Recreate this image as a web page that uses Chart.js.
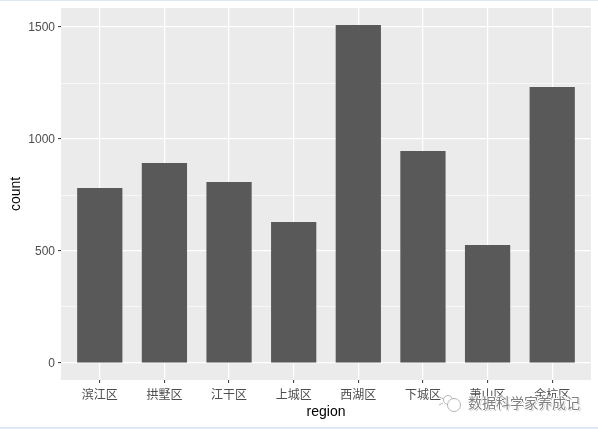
<!DOCTYPE html>
<html><head><meta charset="utf-8">
<script src="https://cdn.jsdelivr.net/npm/chart.js@4"></script>
<style>
html,body{margin:0;padding:0;background:#fff;overflow:hidden}
#wrap{position:relative;width:598px;height:429px}
#stripT,#stripB{position:absolute;left:0;width:598px;background:#dfe9f5}
#stripT{top:0;height:1px}
#stripB{top:427px;height:2px}
#wm{position:absolute;left:468px;top:392px;font:14px "Noto Sans CJK SC";line-height:20px;color:#808080;white-space:nowrap;
text-shadow:1px 0 0 #fff,-1px 0 0 #fff,0 1px 0 #fff,0 -1px 0 #fff,1px 1px 1px #999}
#ic{position:absolute;left:438px;top:393px}
</style></head><body>
<div id="wrap">
<canvas id="c" width="598" height="429" style="display:block"></canvas>
<div id="stripT"></div><div id="stripB"></div>
<svg id="ic" width="26" height="20" fill="none" stroke="#b5b5b5" stroke-width="1"><circle cx="10" cy="7" r="4.5" fill="#fff"/><circle cx="16" cy="12" r="6.5" fill="#fff"/><path d="M1 4l5 2M1 12l4-2"/></svg>
<div id="wm">数据科学家养成记</div>
</div>
<script>
const regions=["滨江区","拱墅区","江干区","上城区","西湖区","下城区","萧山区","余杭区"];
const counts=[781,893,808,629,1509,946,527,1232];
const positions=[1,2,3,4,5,6,7,8];
const yTicks=[0,250,500,750,1000,1250,1500];
const yLabelled=[0,500,1000,1500];
const panel={id:'panel',beforeDraw(ch){const a=ch.chartArea,g=ch.ctx;g.save();g.fillStyle='#ebebeb';g.fillRect(a.left,a.top,a.right-a.left,a.bottom-a.top);g.restore();}};
new Chart(document.getElementById('c'),{
 type:'bar',
 plugins:[panel],
 data:{datasets:[{data:positions.map((p,i)=>({x:p,y:counts[i]})),backgroundColor:'#595959',borderWidth:0,barPercentage:0.7,categoryPercentage:1}]},
 options:{
  responsive:false,animation:false,
  layout:{padding:{top:8,right:7,left:0,bottom:0}},
  plugins:{legend:{display:false},tooltip:{enabled:false}},
  scales:{
   x:{type:'linear',offset:false,min:0.4,max:8.6,
    afterBuildTicks(s){s.ticks=positions.map(v=>({value:v}));},
    afterFit(s){s.height=49;s.paddingLeft=0;s.paddingRight=0;},
    border:{display:false},
    grid:{offset:false,color:'#fff',lineWidth:1.2,tickColor:'#333',tickLength:3,tickWidth:1},
    ticks:{autoSkip:false,maxRotation:0,padding:4,color:'#4d4d4d',font:{family:'"Noto Sans CJK SC"',size:12},callback:v=>regions[v-1]},
    title:{display:true,text:'region',color:'#000',font:{family:'"Liberation Sans"',size:14},padding:{top:0,bottom:8}}
   },
   y:{min:-76,max:1585,
    afterBuildTicks(s){s.ticks=yTicks.map(v=>({value:v}));},
    afterFit(s){s.width=61;s.paddingTop=0;s.paddingBottom=0;},
    border:{display:false},
    grid:{color:'#fff',
     lineWidth:c=>yLabelled.includes(c.tick.value)?1.2:0.6,
     tickColor:c=>yLabelled.includes(c.tick.value)?'#333':'rgba(0,0,0,0)',tickLength:3,tickWidth:1},
    ticks:{autoSkip:false,padding:3,labelOffset:1,color:'#4d4d4d',font:{family:'"Liberation Sans"',size:12},callback:v=>yLabelled.includes(v)?String(v):''},
    title:{display:true,text:'count',color:'#000',font:{family:'"Liberation Sans"',size:14},padding:{top:8,bottom:0}}
   }
  }
 }
});
</script>
</body></html>
